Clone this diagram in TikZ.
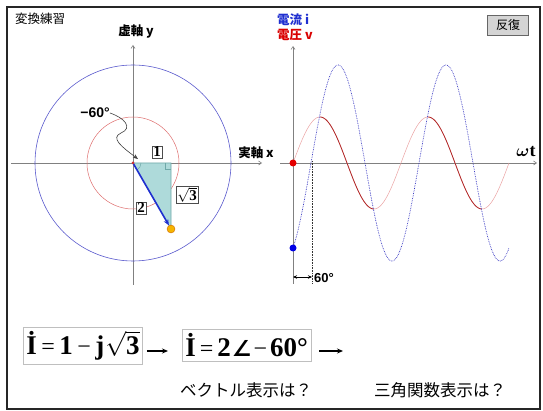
\documentclass[tikz,border=0pt]{standalone}
\usepackage{amsmath}
\usepackage{fontspec}
\setmainfont{Liberation Serif}
\setsansfont{Liberation Sans}
\newfontfamily\jp{Noto Sans CJK JP}
\newfontfamily\djv{DejaVu Sans}
\usetikzlibrary{arrows.meta,calc}
\definecolor{axisgray}{HTML}{808080}
\definecolor{curblue}{HTML}{3030C0}
\definecolor{volred}{HTML}{D03030}
\definecolor{tri}{HTML}{AEDADA}
\definecolor{triedge}{HTML}{6FA8A8}
\definecolor{vecblue}{HTML}{1F2FD0}
\definecolor{dotyellow}{HTML}{F5B400}
\definecolor{btn}{HTML}{D4D4D4}
\newcommand{\smop}[1]{{\mdseries\fontsize{24}{24}\selectfont #1}}
\tikzset{
  axis/.style={draw=axisgray, line width=0.6pt, -{Straight Barb[length=3pt,width=4pt]}},
  jplab/.style={font=\jp\bfseries\fontsize{12.5}{13}\selectfont, inner sep=0pt},
  numbox/.style={draw=black!70, fill=white, line width=0.5pt, inner sep=1pt, font=\bfseries\fontsize{15}{15}\selectfont},
  formbox/.style={draw=black!25, fill=white, line width=0.6pt, inner xsep=3pt, inner ysep=4pt, font=\bfseries\fontsize{27}{27}\selectfont},
  jpnote/.style={font=\jp\fontsize{16.5}{17}\selectfont, inner sep=0pt},
  sblab/.style={font=\sffamily\bfseries\fontsize{13}{13}\selectfont, inner sep=0pt},
  flow/.style={black, line width=1.1pt, -{Stealth[length=6pt,width=5pt]}},
}
\begin{document}
\begin{tikzpicture}[x=1pt,y=-1pt]
\useasboundingbox (0,0) rectangle (543,411);
% frame
\draw[line width=1.6pt, black!85] (7,7) rectangle (540,409);
\node[font=\jp\fontsize{12.5}{13}\selectfont, anchor=west, inner sep=0pt] (title) at (15,19) {変換練習};

% ---------- phasor panel ----------
\coordinate (O) at (133,163);
\draw[axis] (133,285) -- (133,45);
\draw[axis] (11,163) -- (262,163);
\node[jplab] (ylab) at (136,32) {虚軸 y};
\node[jplab] (xlab) at (256,153) {実軸 x};
\draw[curblue!80, line width=0.6pt] (O) circle[radius=98];
\draw[volred!70, line width=0.5pt] (O) circle[radius=46];
% triangle
\coordinate (R) at (171,163);
\filldraw[fill=tri, draw=triedge, line width=0.6pt] (O) -- (R) -- (171,229) -- cycle;
\draw[triedge, line width=0.5pt] (165,163) -- (165,169) -- (171,169);
\draw[triedge, line width=0.5pt] ($(O)+(8,0)$) arc[start angle=0, end angle=60, radius=8];
\node[circle, fill=dotyellow, draw=orange!80!black, line width=0.4pt, minimum size=8pt, inner sep=0pt] (P) at (171,229) {};
\draw[vecblue, line width=1.6pt, -{Stealth[length=6pt,width=5pt]}] (O) -- (P);
\fill[volred] (O) circle[radius=1.5];
\node[numbox] (one) at (157,152) {1};
\node[numbox] (two) at (141,208) {2};
\node[numbox] (sq3) at (187,195) {$\sqrt{\textbf{3}}$};
% -60 label with wavy arrow
\node[sblab, font=\sffamily\bfseries\fontsize{14}{14}\selectfont] (ang) at (95,113) {−60°};
\draw[black!75, line width=0.6pt, -{Stealth[length=5pt,width=4pt]}]
  (ang.east) .. controls (125,118) and (133,128) .. (121,133)
  .. controls (110,138) and (122,147) .. ($(O)+(5,-4)$);

% ---------- waveform panel ----------
\coordinate (O2) at (293,163);
\draw[axis] (293,284) -- (293,46);
\draw[axis] (280,163) -- (537,163);
\node[font=\bfseries\fontsize{18}{18}\selectfont, inner sep=0pt] (wt) at (526,152) {$\boldsymbol{\omega}$t};
\node[font=\jp\bfseries\fontsize{12.5}{13}\selectfont, text=vecblue, anchor=west, inner sep=0pt] (ilab) at (277,20) {電流 i};
\node[font=\jp\bfseries\fontsize{12.5}{13}\selectfont, text=red!85!black, anchor=west, inner sep=0pt] (vlab) at (277,35) {電圧 v};
% button
\node[draw=black!60, fill=btn, line width=0.7pt, minimum width=41pt, minimum height=20pt, inner sep=0pt, font=\jp\fontsize{12}{12}\selectfont] (btn) at (508,25) {反復};
% curves
\draw[volred!45, line width=0.5pt] plot[domain=0:720, samples=240] ({293+\x*0.3}, {163-46*sin(\x)});
\draw[volred!85!black, line width=0.8pt] plot[domain=90:270, samples=80] ({293+\x*0.3}, {163-46*sin(\x)});
\draw[volred!85!black, line width=0.8pt] plot[domain=450:630, samples=80] ({293+\x*0.3}, {163-46*sin(\x)});
\draw[curblue, line width=0.7pt, densely dotted] plot[domain=0:720, samples=300] ({293+\x*0.3}, {163-98*sin(\x-60)});
\node[circle, fill=red!90!black, minimum size=7pt, inner sep=0pt] (rdot) at (O2) {};
\node[circle, fill=blue!90!black, minimum size=7pt, inner sep=0pt] (bdot) at (293,248) {};
% 60 deg marker
\coordinate (Z) at (312,161);
\coordinate (Zb) at (312,283);
\draw[black!80, line width=0.6pt, densely dotted] (Z) -- (Zb);
\coordinate (A1) at (293,277);
\coordinate (A2) at (312,277);
\draw[black, line width=0.6pt, {Stealth[length=4pt,width=3.5pt]}-{Stealth[length=4pt,width=3.5pt]}] (A1) -- (A2);
\node[sblab, anchor=west] (sixty) at (314,278) {60°};

% ---------- formulas ----------
\node[formbox, anchor=west] (f1) at (23,345.5) {İ\kern4.5pt\smop{=}\kern4.5pt1\kern4.5pt\smop{−}\kern4.5pt j\kern1pt$\sqrt{\textbf{3}}$};
\node[formbox, anchor=west] (f2) at (182,345.5) {İ\kern4pt\smop{=}\kern4pt2\kern1pt{\djv\bfseries\fontsize{22}{22}\selectfont ∠}\kern2pt\smop{−}\kern3pt 60°};
\coordinate (E) at (343,351);
\draw[flow] (f1.east |- 0,351) ++(4,0) -- ($(f2.west |- 0,351)+(-14,0)$);
\draw[flow] (f2.east |- 0,351) ++(8,0) -- (E);
\node[jpnote] (q1) at (246,390) {ベクトル表示は？};
\node[jpnote] (q2) at (440,390) {三角関数表示は？};
\end{tikzpicture}
\end{document}
